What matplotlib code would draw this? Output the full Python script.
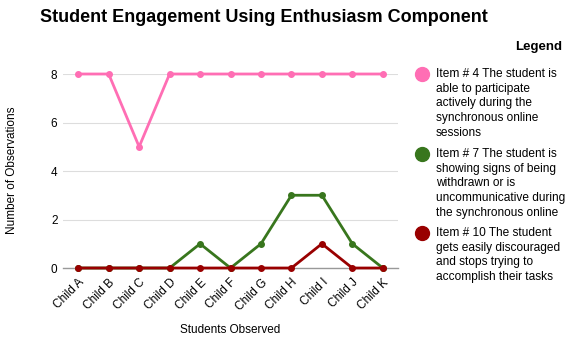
import matplotlib.pyplot as plt
from matplotlib.lines import Line2D

plt.rcParams['font.family'] = ['Liberation Sans', 'DejaVu Sans']

children = ['Child A', 'Child B', 'Child C', 'Child D', 'Child E', 'Child F',
            'Child G', 'Child H', 'Child I', 'Child J', 'Child K']
item4 = [8, 8, 5, 8, 8, 8, 8, 8, 8, 8, 8]
item7 = [0, 0, 0, 0, 1, 0, 1, 3, 3, 1, 0]
item10 = [0, 0, 0, 0, 0, 0, 0, 0, 1, 0, 0]

labels = [
    'Item # 4 The student is\nable to participate\nactively during the\nsynchronous online\nsessions',
    'Item # 7 The student is\nshowing signs of being\nwithdrawn or is\nuncommunicative during\nthe synchronous online',
    'Item # 10 The student\ngets easily discouraged\nand stops trying to\naccomplish their tasks',
]
colors = ['#ff6eb4', '#38761d', '#990000']

fig = plt.figure(figsize=(5.65, 3.39), dpi=100)
ax = fig.add_axes([0.1115, 0.2094, 0.593, 0.5723])

x = list(range(len(children)))
for vals, c in zip([item4, item7, item10], colors):
    ax.plot(x, vals, color=c, linewidth=2, marker='o', markersize=4, clip_on=False, zorder=3)

ax.set_xlim(-0.5, 10.5)
ax.set_ylim(0, 8)
ax.set_yticks([0, 2, 4, 6, 8])
ax.set_xticks(x)
ax.set_xticklabels(children, rotation=45, ha='right', rotation_mode='anchor', fontsize=8.5)
ax.tick_params(axis='y', labelsize=8.5, length=0, pad=4)
ax.tick_params(axis='x', length=0, pad=6)
ax.grid(axis='y', color='#dddddd', linewidth=0.8)
ax.set_axisbelow(True)
for s in ['top', 'right', 'left']:
    ax.spines[s].set_visible(False)
ax.spines['bottom'].set_color('#999999')
ax.spines['bottom'].set_linewidth(1)

fig.text(12 / 565, 1 - 170 / 339, 'Number of Observations', rotation=90, fontsize=8.5,
         ha='center', va='center')
fig.text(230 / 565, 1 - 330 / 339, 'Students Observed', fontsize=8.5, ha='center', va='center')

fig.suptitle('Student Engagement Using Enthusiasm Component', x=264 / 565, y=1 - 18 / 339,
             fontsize=13, fontweight='bold', va='center')
fig.text(562 / 565, 1 - 47 / 339, 'Legend', fontsize=9.5, fontweight='bold', ha='right', va='center')

tops = [74, 154, 233]
for lab, c, ty in zip(labels, colors, tops):
    fig.add_artist(Line2D([422 / 565], [1 - ty / 339], marker='o', markersize=10,
                          color=c, linestyle='none', transform=fig.transFigure))
    fig.text(436 / 565, 1 - (ty - 6) / 339, lab, fontsize=8.6, va='top', ha='left',
             linespacing=1.3)

fig.savefig('out.png', dpi=100)
